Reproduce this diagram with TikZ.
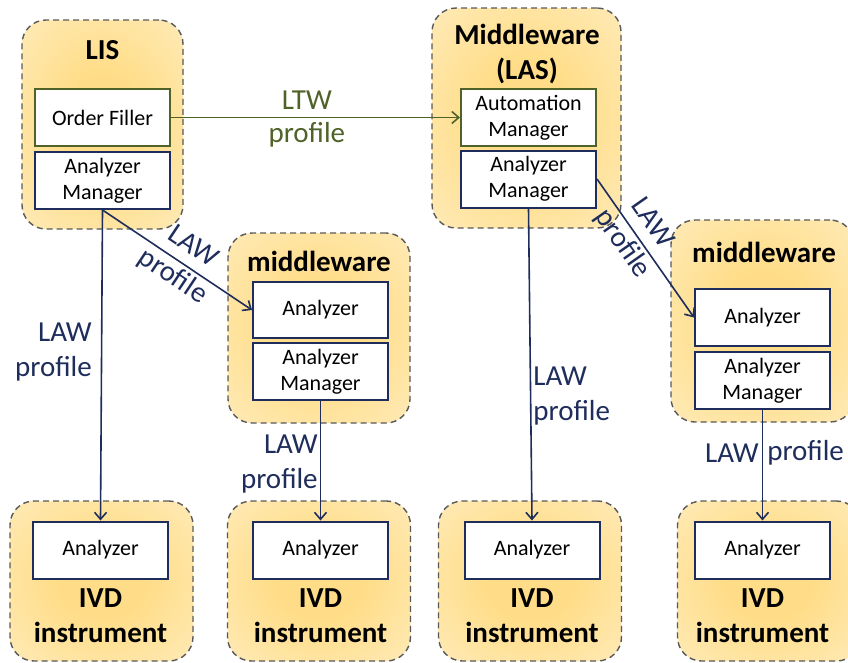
\documentclass[tikz,border=0pt]{standalone}
\usepackage{fontspec}
\setmainfont{Carlito}
\usetikzlibrary{arrows.meta}

\definecolor{navy}{HTML}{1F2D5C}
\definecolor{olive}{HTML}{4F6228}
\definecolor{dashgray}{HTML}{595959}
\definecolor{goldin}{HTML}{FFDD88}
\definecolor{goldout}{HTML}{FFF4D8}

\pgfdeclareradialshading{goldglow}{\pgfpointorigin}{color(0bp)=(goldin); color(12bp)=(goldin); color(52bp)=(goldout); color(72bp)=(goldout)}

\tikzset{
  grpbox/.style={draw=dashgray, line width=1.4pt, dash pattern=on 6pt off 4pt,
    rounded corners=24pt, shading=goldglow, shade},
  unitbox/.style={draw=navy, line width=2pt, fill=white, inner sep=0pt,
    minimum width=135pt, minimum height=57pt, align=center,
    font=\fontsize{22}{26}\selectfont},
  ltwbox/.style={unitbox, draw=olive},
  titletext/.style={align=center, inner sep=0pt, font=\fontsize{29}{35}\selectfont\bfseries},
  lawline/.style={navy, line width=1.6pt, -{Straight Barb[length=7pt,width=12pt]}},
  lawtext/.style={text=navy, inner sep=1pt, font=\fontsize{29}{35}\selectfont},
}

\begin{document}
\begin{tikzpicture}[x=1pt,y=-1pt]
\useasboundingbox (0,0) rectangle (848,662);

% LIS
\node[grpbox, minimum width=161pt, minimum height=209pt] (lisgrp) at (102.5,124.5) {};
\node[titletext] (listitle) at (102.5,50) {LIS};
\node[ltwbox] (lisof) at (102.5,117.5) {Order Filler};
\node[unitbox] (lisam) at (102.5,180.5) {Analyzer\\Manager};

% Middleware (LAS)
\node[grpbox, minimum width=189pt, minimum height=220pt] (lasgrp) at (526.5,118) {};
\node[titletext] (lastitle) at (527,54) {Middleware\\(LAS)};
\node[ltwbox] (lasauto) at (528.5,117.5) {Automation\\Manager};
\node[unitbox] (lasam) at (528.5,179) {Analyzer\\Manager};

% middleware under LIS
\node[grpbox, minimum width=182pt, minimum height=190pt] (mwgrp) at (319,328) {};
\node[titletext] (mwtitle) at (319,261) {middleware};
\node[unitbox, minimum height=56pt] (mwa) at (320.5,310) {Analyzer};
\node[unitbox] (mwam) at (320.5,371.5) {Analyzer\\Manager};

% middleware under LAS
\node[grpbox, minimum width=183pt, minimum height=202pt] (rmwgrp) at (762.5,321) {};
\node[titletext] (rmwtitle) at (764,252) {middleware};
\node[unitbox] (rma) at (762.5,317.5) {Analyzer};
\node[unitbox] (rmam) at (762.5,380.5) {Analyzer\\Manager};

% IVD instruments
\foreach \n/\cx/\bx in {a/101.5/100.5, b/319/320.5, c/530/532, d/769/762.5} {
  \node[grpbox, minimum width=183pt, minimum height=160pt] (ivd\n grp) at (\cx,581) {};
  \node[unitbox] (ivd\n) at (\bx,550) {Analyzer};
  \node[titletext] (ivd\n title) at (\bx,616) {IVD\\instrument};
}

% LTW
\draw[olive, line width=1.6pt, -{Straight Barb[length=7pt,width=12pt]}] (lisof.east) -- (lasauto.west)
  node[pos=0.47, above=6pt, text=olive, inner sep=1pt, font=\fontsize{29}{35}\selectfont] {LTW}
  node[pos=0.47, below=3pt, text=olive, inner sep=1pt, font=\fontsize{29}{35}\selectfont] {profile};

% LAW
\draw[lawline] (lisam.south) -- (ivda.north)
  node[pos=0.457, left=8pt, lawtext, align=right] {LAW\\profile};
\draw[lawline] (lisam.south) -- (mwa.west)
  node[pos=0.53, sloped, above=10pt, lawtext] {LAW}
  node[pos=0.53, sloped, below=2pt, lawtext] {profile};
\draw[lawline] (mwam.south) -- (ivdb.north)
  node[pos=0.53, left=1pt, lawtext, align=right] {LAW\\profile};
\draw[lawline] (lasam.south) -- (ivdc.north)
  node[pos=0.6, right=1pt, lawtext, align=left] {LAW\\profile};
\draw[lawline] (lasam.east) -- (rma.west)
  node[pos=0.4, sloped, above=10pt, lawtext] {LAW}
  node[pos=0.4, sloped, below=2pt, lawtext] {profile};
\draw[lawline] (rmam.south) -- (ivdd.north)
  node[pos=0.39, left=2pt, lawtext] {LAW}
  node[pos=0.39, right=3pt, lawtext] {profile};
\end{tikzpicture}
\end{document}
